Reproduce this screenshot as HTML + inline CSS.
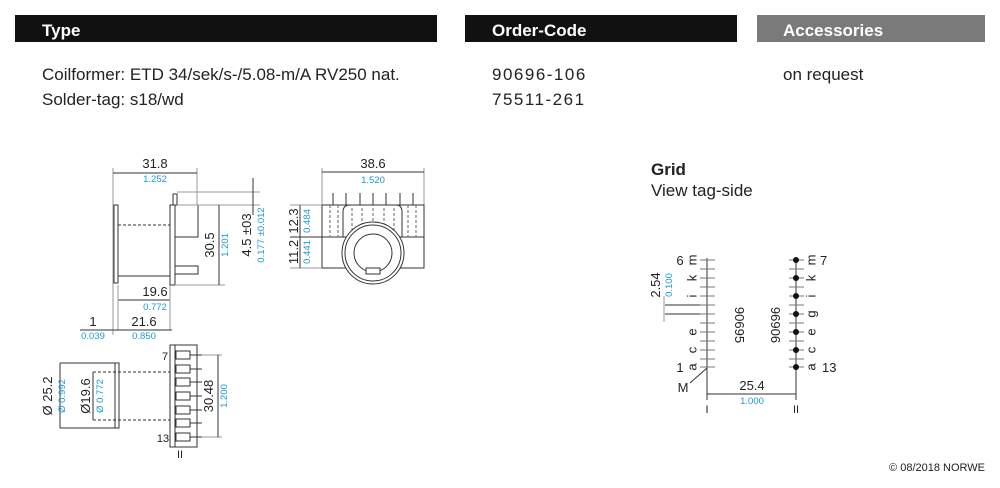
<!DOCTYPE html>
<html><head><meta charset="utf-8"><style>
body{margin:0;width:1000px;height:488px;background:#fff;overflow:hidden;font-family:"Liberation Sans",sans-serif}
svg{position:absolute;left:0;top:0}
text{font-family:"Liberation Sans",sans-serif}
.b{fill:#1a9ad6}
</style></head><body>
<svg width="1000" height="488" viewBox="0 0 1000 488">
<rect x="15" y="15" width="422" height="27" fill="#111"/>
<rect x="465" y="15" width="272" height="27" fill="#111"/>
<rect x="757" y="15" width="228" height="27" fill="#7a7a7a"/>
<text x="42" y="36" fill="#fff" font-size="17" font-weight="bold">Type</text>
<text x="492" y="36" fill="#fff" font-size="17" font-weight="bold">Order-Code</text>
<text x="783" y="36" fill="#fff" font-size="17" font-weight="bold">Accessories</text>
<g font-size="17" fill="#222">
<text x="42" y="80">Coilformer:  ETD 34/sek/s-/5.08-m/A RV250 nat.</text>
<text x="42" y="105">Solder-tag:  s18/wd</text>
<text x="492" y="80" letter-spacing="1.5">90696-106</text>
<text x="492" y="105" letter-spacing="1.5">75511-261</text>
<text x="783" y="80">on request</text>
<text x="651" y="175" font-weight="bold">Grid</text>
<text x="651" y="196">View tag-side</text>
</g>
<text x="985" y="471" font-size="11" text-anchor="end" fill="#222">© 08/2018 NORWE</text>

<g stroke="#333" stroke-width="1" fill="none">
<!-- side view -->
<line x1="113" y1="168" x2="113" y2="335" stroke="#999"/>
<line x1="197" y1="168" x2="197" y2="205" stroke="#999"/>
<line x1="113" y1="173" x2="197" y2="173"/>
<rect x="114" y="205" width="4" height="78"/>
<line x1="118" y1="225" x2="170" y2="225" stroke-dasharray="3,2"/>
<line x1="118" y1="276" x2="170" y2="276"/>
<rect x="170" y="205" width="5" height="80"/>
<rect x="175" y="205" width="23" height="32"/>
<rect x="175" y="266" width="23" height="8"/>
<line x1="175" y1="237" x2="175" y2="266" stroke-dasharray="3,2"/>
<rect x="173" y="194" width="4" height="11"/>
<line x1="177" y1="192" x2="260" y2="192" stroke="#999"/>
<line x1="177" y1="205" x2="260" y2="205" stroke="#999"/>
<line x1="175" y1="285" x2="225" y2="285" stroke="#999"/>
<line x1="219" y1="205" x2="219" y2="285"/>
<line x1="253" y1="178" x2="253" y2="215"/>
<line x1="118" y1="300" x2="170" y2="300"/>
<line x1="118" y1="285" x2="118" y2="330" stroke="#999"/>
<line x1="170" y1="285" x2="170" y2="330" stroke="#999"/>
<line x1="80" y1="330" x2="172" y2="330"/>
<!-- front view -->
<line x1="322" y1="168" x2="322" y2="268" stroke="#999"/>
<line x1="424" y1="168" x2="424" y2="268" stroke="#999"/>
<line x1="322" y1="172" x2="424" y2="172"/>
<rect x="322" y="205" width="102" height="63"/>
<line x1="322" y1="237" x2="424" y2="237"/>
<g stroke-dasharray="3,2" stroke="#666">
<line x1="330" y1="205" x2="330" y2="237"/><line x1="338" y1="205" x2="338" y2="237"/>
<line x1="408" y1="205" x2="408" y2="237"/><line x1="416" y1="205" x2="416" y2="237"/>
<line x1="352" y1="208" x2="352" y2="230"/><line x1="362" y1="208" x2="362" y2="225"/>
<line x1="373" y1="208" x2="373" y2="222"/><line x1="384" y1="208" x2="384" y2="225"/>
<line x1="394" y1="208" x2="394" y2="230"/>
</g>
<path d="M343 237 V212 Q343 205 350 205 H396 Q402 205 402 212 V237"/>
<g><line x1="333" y1="193" x2="333" y2="205"/><line x1="346" y1="193" x2="346" y2="205"/><line x1="360" y1="193" x2="360" y2="205"/><line x1="373" y1="193" x2="373" y2="205"/><line x1="386" y1="193" x2="386" y2="205"/><line x1="400" y1="193" x2="400" y2="205"/><line x1="413" y1="193" x2="413" y2="205"/></g>
<circle cx="373" cy="253" r="31" fill="#fff"/>
<circle cx="373" cy="253" r="28"/>
<circle cx="373" cy="253" r="19"/>
<rect x="366" y="268" width="14" height="6" fill="#fff"/>
<line x1="290" y1="205" x2="322" y2="205" stroke="#999"/>
<line x1="290" y1="237" x2="322" y2="237"/>
<line x1="290" y1="268" x2="322" y2="268" stroke="#999"/>
<line x1="300" y1="205" x2="300" y2="268"/>
<!-- bottom view -->
<line x1="60" y1="363" x2="115" y2="363"/>
<line x1="60" y1="428" x2="115" y2="428"/>
<line x1="60" y1="363" x2="60" y2="428"/>
<rect x="115" y="363" width="4" height="65"/>
<line x1="93" y1="372" x2="93" y2="420"/>
<line x1="93" y1="372" x2="170" y2="372" stroke-dasharray="3,2"/>
<line x1="93" y1="420" x2="170" y2="420" stroke-dasharray="3,2"/>
<rect x="170" y="345" width="27" height="102"/>
<line x1="175" y1="345" x2="175" y2="447"/>
<g>
<rect x="176" y="351" width="14" height="8"/><line x1="190" y1="355" x2="202" y2="355"/>
<rect x="176" y="365" width="14" height="8"/><line x1="190" y1="369" x2="202" y2="369"/>
<rect x="176" y="378" width="14" height="8"/><line x1="190" y1="382" x2="202" y2="382"/>
<rect x="176" y="392" width="14" height="8"/><line x1="190" y1="396" x2="202" y2="396"/>
<rect x="176" y="406" width="14" height="8"/><line x1="190" y1="410" x2="202" y2="410"/>
<rect x="176" y="419" width="14" height="8"/><line x1="190" y1="423" x2="202" y2="423"/>
<rect x="176" y="433" width="14" height="8"/><line x1="190" y1="437" x2="202" y2="437"/>
</g>
<line x1="202" y1="355" x2="222" y2="355" stroke="#999"/>
<line x1="202" y1="437" x2="222" y2="437" stroke="#999"/>
<line x1="218" y1="355" x2="218" y2="437"/>
<!-- grid -->
<line x1="707" y1="258" x2="707" y2="400"/>
<line x1="796" y1="258" x2="796" y2="400"/>
<line x1="707" y1="394" x2="796" y2="394"/>
<line x1="707" y1="368" x2="690" y2="383"/>
<line x1="665" y1="305" x2="707" y2="305"/>
<line x1="665" y1="314" x2="707" y2="314"/>
<line x1="664" y1="296" x2="664" y2="322" stroke="#999"/>
</g>
<g stroke="#777" stroke-width="1">
<path d="M700 260h15M700 269h15M700 278h15M700 287h15M700 296h15M700 305h15M700 314h15M700 323h15M700 332h15M700 341h15M700 350h15M700 359h15M700 367h15"/>
<path d="M789 260h15M789 269h15M789 278h15M789 287h15M789 296h15M789 305h15M789 314h15M789 323h15M789 332h15M789 341h15M789 350h15M789 359h15M789 367h15"/>
</g>
<g fill="#111"><circle cx="796" cy="260" r="3"/><circle cx="796" cy="278" r="3"/><circle cx="796" cy="296" r="3"/><circle cx="796" cy="314" r="3"/><circle cx="796" cy="332" r="3"/><circle cx="796" cy="350" r="3"/><circle cx="796" cy="367" r="3"/></g>

<g font-size="13" fill="#222" text-anchor="middle">
<text x="155" y="168">31.8</text>
<text x="155" y="296">19.6</text>
<text x="144" y="326">21.6</text>
<text x="93" y="326">1</text>
<text x="373" y="168">38.6</text>
<text transform="translate(214,245) rotate(-90)">30.5</text>
<text transform="translate(251,235) rotate(-90)">4.5 ±03</text>
<text transform="translate(298,221) rotate(-90)">12.3</text>
<text transform="translate(298,252) rotate(-90)">11.2</text>
<text transform="translate(52,396) rotate(-90)">Ø 25.2</text>
<text transform="translate(90,396) rotate(-90)">Ø19.6</text>
<text transform="translate(213,396) rotate(-90)">30.48</text>
<text x="165" y="360" font-size="11">7</text>
<text x="163" y="442" font-size="11">13</text>
<text x="180" y="458" font-family="Liberation Serif" font-size="11">II</text>
<text transform="translate(660,285) rotate(-90)">2.54</text>
<text x="680" y="265">6</text>
<text x="680" y="372">1</text>
<text x="683" y="392">M</text>
<text transform="translate(735,325) rotate(90)">90695</text>
<text transform="translate(780,325) rotate(-90)">90696</text>
<text x="752" y="390">25.4</text>
<text x="820" y="265" text-anchor="start">7</text>
<text x="822" y="372" text-anchor="start">13</text>
<text x="707" y="413" font-family="Liberation Serif" font-size="11">I</text>
<text x="796" y="413" font-family="Liberation Serif" font-size="11">II</text>
<g font-size="13" dominant-baseline="central">
<text transform="translate(692,260) rotate(-90)">m</text>
<text transform="translate(692,278) rotate(-90)">k</text>
<text transform="translate(692,296) rotate(-90)">i</text>
<text transform="translate(692,332) rotate(-90)">e</text>
<text transform="translate(692,350) rotate(-90)">c</text>
<text transform="translate(692,367) rotate(-90)">a</text>
<text transform="translate(811,260) rotate(-90)">m</text>
<text transform="translate(811,278) rotate(-90)">k</text>
<text transform="translate(811,296) rotate(-90)">i</text>
<text transform="translate(811,314) rotate(-90)">g</text>
<text transform="translate(811,332) rotate(-90)">e</text>
<text transform="translate(811,350) rotate(-90)">c</text>
<text transform="translate(811,367) rotate(-90)">a</text>
</g>
</g>
<g font-size="9.5" class="b" text-anchor="middle">
<text x="155" y="182">1.252</text>
<text x="155" y="310">0.772</text>
<text x="144" y="339">0.850</text>
<text x="93" y="339">0.039</text>
<text x="373" y="183">1.520</text>
<text transform="translate(228,245) rotate(-90)">1.201</text>
<text transform="translate(264,235) rotate(-90)">0.177 ±0.012</text>
<text transform="translate(310,221) rotate(-90)">0.484</text>
<text transform="translate(310,252) rotate(-90)">0.441</text>
<text transform="translate(65,396) rotate(-90)">Ø 0.992</text>
<text transform="translate(103,396) rotate(-90)">Ø 0.772</text>
<text transform="translate(227,396) rotate(-90)">1.200</text>
<text transform="translate(672,285) rotate(-90)">0.100</text>
<text x="752" y="404">1.000</text>
</g>
</svg>
</body></html>
